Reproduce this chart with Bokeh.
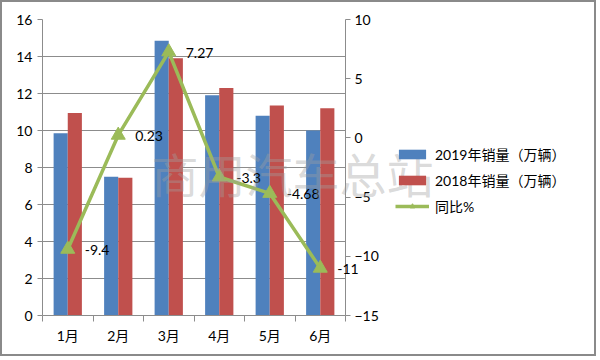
from bokeh.plotting import figure
from bokeh.layouts import column
from bokeh.models import (Range1d, LinearAxis, FixedTicker, ColumnDataSource,
                          Legend, LegendItem, Label)
from bokeh.core.properties import value
from bokeh.transform import dodge
from bokeh.embed import file_html
from bokeh.resources import INLINE

categories = ["1月", "2月", "3月", "4月", "5月", "6月"]
sales_2019 = [9.85, 7.5, 14.85, 11.9, 10.8, 10.0]
sales_2018 = [10.95, 7.45, 13.9, 12.3, 11.35, 11.2]
yoy = [-9.4, 0.23, 7.27, -3.3, -4.68, -11]
yoy_labels = ["-9.4", "0.23", "7.27", "-3.3", "-4.68", "-11"]
left_ticks = [0, 2, 4, 6, 8, 10, 12, 14, 16]
right_ticks = [-15, -10, -5, 0, 5, 10]

FONT = "Lato, 'Noto Sans CJK SC', sans-serif"
W, H = 596, 356                            # plus a 2px CSS border -> 600x360
BL, BT, BB, BR = 40, 17, 43, 253           # borders around the plot frame
GRID = "#8c8c8c"
BLUE, RED, GREEN = "#4F81BD", "#C0504D", "#9BBB59"

xs = list(range(1, len(categories) + 1))
src = ColumnDataSource(dict(x=xs, s19=sales_2019, s18=sales_2018,
                            yoy=yoy, lab=yoy_labels))

x0, x1 = 0.5, len(categories) + 0.5
p = figure(width=W, height=H, output_backend="svg", toolbar_location=None,
           x_range=Range1d(x0, x1), y_range=Range1d(0, 16),
           min_border_left=BL, min_border_top=BT, min_border_bottom=BB,
           min_border_right=BR, frame_align=False)
p.extra_y_ranges = {"yoy": Range1d(-15, 10)}
p.styles = {"border": "2px solid #8a8a8a"}
p.outline_line_color = None
p.background_fill_color = "white"
p.border_fill_color = "white"

p.xgrid.visible = False
p.ygrid.ticker = FixedTicker(ticks=left_ticks)
p.ygrid.grid_line_color = GRID
p.ygrid.grid_line_width = 1


def style_axis(ax):
    ax.axis_line_color = GRID
    ax.major_tick_line_color = GRID
    ax.major_tick_out = 5
    ax.major_tick_in = 0
    ax.minor_tick_line_color = None
    ax.major_label_text_font = FONT
    ax.major_label_text_font_size = "14px"
    ax.major_label_text_color = "#000000"
    ax.major_label_standoff = 5


la = p.yaxis[0]
la.ticker = FixedTicker(ticks=left_ticks)
style_axis(la)

xa = p.xaxis[0]
xa.ticker = FixedTicker(ticks=xs, minor_ticks=[x - 0.5 for x in xs] + [xs[-1] + 0.5])
xa.major_label_overrides = {x: c for x, c in zip(xs, categories)}
style_axis(xa)
xa.major_tick_line_color = None
xa.major_tick_out = 0
xa.minor_tick_line_color = GRID
xa.minor_tick_out = 6
xa.minor_tick_in = 0
xa.major_label_standoff = 5

ra = LinearAxis(y_range_name="yoy", ticker=FixedTicker(ticks=right_ticks))
style_axis(ra)
ra.major_label_standoff = 4
p.add_layout(ra, "right")

w = 0.28
p.vbar(x=dodge("x", -w / 2), top="s19", width=w, source=src,
       fill_color=BLUE, line_color=None)
p.vbar(x=dodge("x", w / 2), top="s18", width=w, source=src,
       fill_color=RED, line_color=None)
p.line(x="x", y="yoy", source=src, y_range_name="yoy",
       line_color=GREEN, line_width=3.5)
p.scatter(x="x", y="yoy", source=src, y_range_name="yoy", marker="triangle",
          size=14, fill_color=GREEN, line_color=GREEN)

# transparent overlay with the same scales, its frame reaching the right edge,
# so that data labels, legend and watermark are not clipped at the right axis
frame_w = W - BL - BR
over_w = W - BL
q = figure(width=W, height=H, output_backend="svg", toolbar_location=None,
           x_range=Range1d(x0, x0 + (x1 - x0) * over_w / frame_w),
           y_range=Range1d(-15, 10),
           min_border_left=BL, min_border_top=BT, min_border_bottom=BB,
           min_border_right=0, frame_align=False)
q.styles = {"position": "absolute", "left": "0px", "top": "0px",
            "width": f"{W}px", "height": f"{H}px",
            "border": "2px solid transparent", "pointer-events": "none"}
q.axis.visible = False
q.grid.visible = False
q.outline_line_color = None
q.background_fill_alpha = 0
q.border_fill_alpha = 0

q.text(x="x", y="yoy", text="lab", source=src,
       x_offset=17, y_offset=1, text_font=value(FONT), text_font_size="14px",
       text_color="#000000", text_baseline="middle", text_align="left")

# legend keys: hidden copies of the series (same data and styles) in the overlay
k19 = q.vbar(x="x", top="s19", width=w, source=src, fill_color=BLUE,
             line_color=None, visible=False)
k18 = q.vbar(x="x", top="s18", width=w, source=src, fill_color=RED,
             line_color=None, visible=False)
kln = q.line(x="x", y="yoy", source=src, line_color=GREEN, line_width=3.5,
             visible=False)
kmk = q.scatter(x="x", y="yoy", source=src, marker="triangle", size=14,
                fill_color=GREEN, line_color=GREEN, visible=False)

legend = Legend(items=[
    LegendItem(label="2019年销量（万辆）", renderers=[k19]),
    LegendItem(label="2018年销量（万辆）", renderers=[k18]),
    LegendItem(label="同比%", renderers=[kln, kmk]),
], location=(353, 99), orientation="vertical")
legend.border_line_color = None
legend.background_fill_alpha = 0
legend.inactive_fill_alpha = 0
legend.padding = 0
legend.margin = 0
legend.spacing = 6
legend.label_height = 20
legend.glyph_height = 12
legend.glyph_width = 34
legend.label_standoff = 6
legend.label_text_font = FONT
legend.label_text_font_size = "14px"
legend.label_text_color = "#000000"
q.add_layout(legend)

wm = Label(x=250, y=143, x_units="screen", y_units="screen", text="商用汽车总站",
           text_font="Noto Sans CJK SC", text_font_size="47px",
           text_color="#a0a0a0", text_alpha=0.4, text_align="center",
           text_baseline="middle")
q.add_layout(wm)

layout = column(p, q)
open("out.html", "w").write(file_html(layout, INLINE))
